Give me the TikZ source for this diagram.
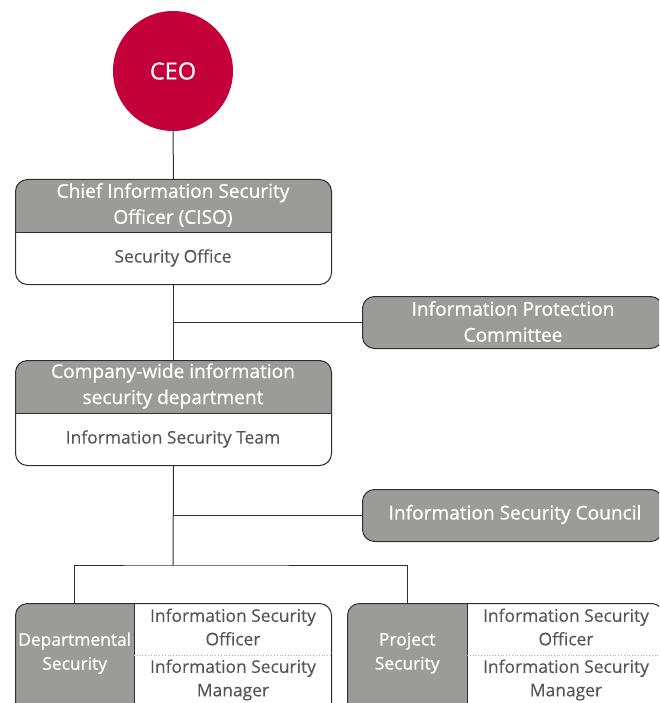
\documentclass[tikz,border=0pt]{standalone}
\usepackage{fontspec}
\setmainfont{Open Sans}
\newfontfamily\medfont[FakeBold=0.7]{Open Sans}
\newfontfamily\regfont[FakeBold=0.2]{Open Sans}
\usetikzlibrary{calc}
\definecolor{ceored}{HTML}{C4003B}
\definecolor{hdrgray}{HTML}{9B9B9A}
\definecolor{edgec}{HTML}{2E2E2E}
\definecolor{txtgray}{HTML}{555555}
\definecolor{dotgray}{HTML}{B0B0B0}
\begin{document}
\begin{tikzpicture}[x=1pt,y=-1pt,
  conn/.style={draw=edgec, line width=1pt},
  ceostyle/.style={circle, fill=ceored, minimum size=120pt, inner sep=0pt, text=white, font=\medfont\fontsize{23.5}{27}\selectfont},
  twobox/.style={draw=edgec, line width=1pt, rounded corners=12pt, fill=white, inner sep=0pt,
     minimum width=316pt, minimum height=105pt, anchor=north west,
     path picture={\fill[hdrgray, sharp corners] (path picture bounding box.north west) rectangle ([yshift=-53pt]path picture bounding box.north east);}},
  sidebox/.style={draw=edgec, line width=1pt, rounded corners=12pt, fill=hdrgray, inner sep=0pt,
     minimum width=300pt, minimum height=52pt, anchor=north west},
  splitbox/.style={draw=edgec, line width=1pt, rounded corners=12pt, fill=white, inner sep=0pt,
     minimum height=112pt, anchor=north west,
     path picture={\fill[hdrgray, sharp corners] (path picture bounding box.north west) rectangle ([xshift=#1]path picture bounding box.south west);}},
  hdrtext/.style={text=white, align=center, inner sep=0pt, font=\medfont\fontsize{19.1}{26}\selectfont},
  lbltext/.style={text=white, align=center, inner sep=0pt, font=\medfont\fontsize{17.4}{24}\selectfont},
  subtext/.style={text=txtgray, align=center, inner sep=0pt, font=\regfont\fontsize{17.4}{23.5}\selectfont},
  lbl/.style={minimum width=119pt, minimum height=100pt, anchor=north west, inner sep=0pt}
]
\useasboundingbox (0,0) rectangle (659,703);
\clip (0,0) rectangle (659,703);

% CEO
\node[ceostyle] (ceo) at (173,71) {CEO};

% CISO box
\node[twobox] (ciso) at (15,179) {};
\draw[conn] ([yshift=-53pt]ciso.north west) -- ([yshift=-53pt]ciso.north east);
\node[hdrtext] (cisoh) at (173,205) {Chief Information Security\\Officer (CISO)};
\node[subtext] (cisos) at (173,258) {Security Office};

% Information Protection Committee
\node[sidebox] (ipc) at (362,296) {};
\node[hdrtext] (ipct) at (513,321.5) {Information Protection\\Committee};

% Company-wide box
\node[twobox] (cw) at (15,360) {};
\draw[conn] ([yshift=-53pt]cw.north west) -- ([yshift=-53pt]cw.north east);
\node[hdrtext] (cwh) at (173,386) {Company-wide information\\security department};
\node[subtext] (cws) at (173,439) {Information Security Team};

% Information Security Council
\node[sidebox] (isc) at (362,489) {};
\node[hdrtext] (isct) at (515,514.5) {Information Security Council};

% Departmental Security box
\node[splitbox=119pt, minimum width=316pt] (dept) at (15,603) {};
\node[lbl] (deptl) at (15,603) {};
\node[lbltext] (deptt) at (deptl.center) {Departmental\\Security};
\draw[conn] (deptl.north east) -- ++(0,112);
\draw[dotgray, line width=0.8pt, dotted] (134,655) -- (331,655);
\node[subtext] (d1) at (233,627) {Information Security\\Officer};
\node[subtext] (d2) at (233,680) {Information Security\\Manager};

% Project Security box
\node[splitbox=120pt, minimum width=316pt] (proj) at (347,603) {};
\node[lbl, minimum width=120pt] (projl) at (347,603) {};
\node[lbltext] (projt) at (projl.center) {Project\\Security};
\draw[conn] (projl.north east) -- ++(0,112);
\draw[dotgray, line width=0.8pt, dotted] (467,655) -- (663,655);
\node[subtext] (p1) at (566,627) {Information Security\\Officer};
\node[subtext] (p2) at (566,680) {Information Security\\Manager};

% connectors
\draw[conn] (ceo.south) -- (ciso.north);
\draw[conn] (ciso.south) -- (cw.north);
\draw[conn] (ciso.south |- ipc.west) -- (ipc.west);
\coordinate (split) at (173,565);
\draw[conn] (cw.south) -- (split);
\draw[conn] (cw.south |- isc.west) -- (isc.west);
\draw[conn] (deptl.north) |- (split) -| (projl.north);
\end{tikzpicture}
\end{document}
